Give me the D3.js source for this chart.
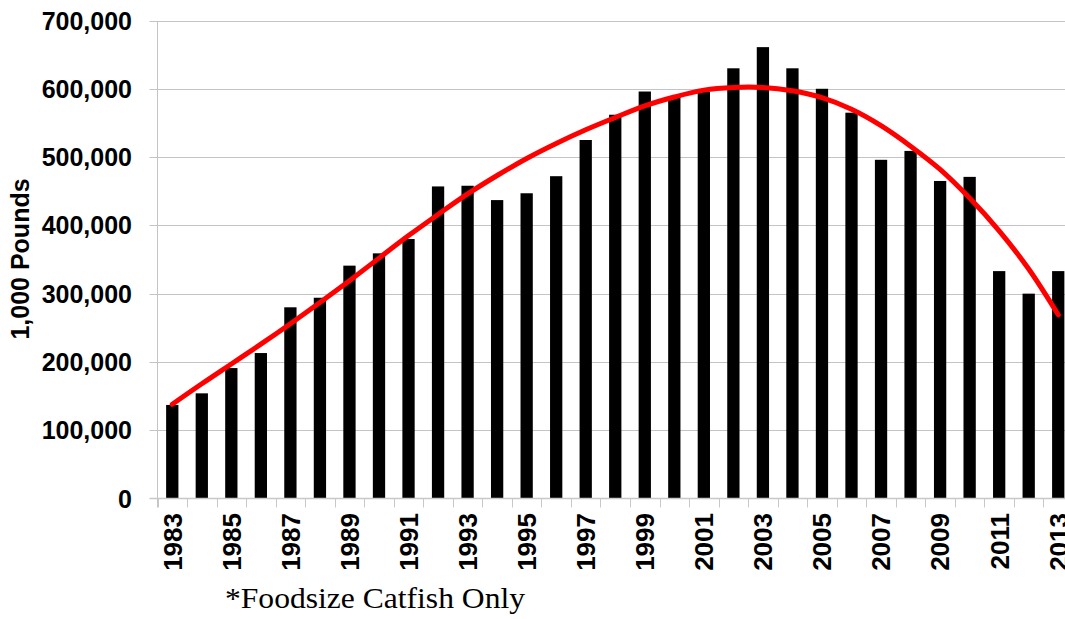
<!DOCTYPE html>
<html>
<head>
<meta charset="utf-8">
<script src="https://cdn.jsdelivr.net/npm/d3@7"></script>
<style>
  body { margin: 0; background: #fff; }
  svg { display: block; overflow: hidden; }
</style>
</head>
<body>
<svg id="chart"></svg>
<script>

const width = 1065;
const height = 619;

// years on the x axis
const years = d3.range(1983, 2014).map(String);

// catfish processed, 1,000 pounds
const pounds = [137000, 154000, 191000, 213000, 280000, 294000, 341000, 359000, 380000, 457000,
    458000, 437000, 447000, 472000, 525000, 562000, 596000, 589000, 596000, 630000,
    661000, 630000, 600000, 565000, 496000, 509000, 465000, 471000, 333000, 300000, 333000];

// red trend line (at each year)
const trend = [138000, 168000, 197000, 226000, 256000, 287000, 319000, 352000, 385000, 416000,
    446000, 473000, 498000, 520000, 540000, 558000, 575000, 588000, 598000, 602000,
    602000, 597000, 587000, 570000, 546000, 516000, 482000, 440000, 392000, 336000, 269000];

const yTicks = [0, 100000, 200000, 300000, 400000, 500000, 600000, 700000];
const labelYears = years.filter((d, i) => i % 2 === 0);

const plotLeft = 157.5;
const plotRight = 1073;
const plotTop = 20.5;
const plotBottom = 498.5;

const svg = d3.select("#chart")
    .attr("width", width)
    .attr("height", height);

const x = d3.scaleBand()
    .domain(years)
    .range([plotLeft, plotRight])
    .paddingInner(0.584)
    .paddingOuter(0.292);

const y = d3.scaleLinear()
    .domain([0, 700000])
    .range([plotBottom, plotTop]);

const fmt = d3.format(",d");

// gridlines
svg.append("g")
    .selectAll("line")
    .data(yTicks.filter(d => d > 0))
    .enter().append("line")
    .attr("x1", plotLeft - 8)
    .attr("x2", width)
    .attr("y1", d => Math.round(y(d)) + 0.5)
    .attr("y2", d => Math.round(y(d)) + 0.5)
    .style("stroke", "#c4c4c4")
    .style("stroke-width", 1);

// y axis line
svg.append("line")
    .attr("x1", plotLeft)
    .attr("x2", plotLeft)
    .attr("y1", Math.round(y(700000)) + 0.5)
    .attr("y2", plotBottom + 9)
    .style("stroke", "#c4c4c4");

// y tick labels
svg.append("g")
    .selectAll("text")
    .data(yTicks)
    .enter().append("text")
    .attr("x", 132)
    .attr("y", d => y(d))
    .attr("dy", "0.36em")
    .attr("text-anchor", "end")
    .style("font-family", "'Liberation Sans', Arial, sans-serif")
    .style("font-weight", "bold")
    .style("font-size", "25px")
    .style("fill", "#000")
    .text(d => fmt(d));

// bars
svg.append("g")
    .selectAll("rect")
    .data(pounds)
    .enter().append("rect")
    .attr("x", (d, i) => x(years[i]))
    .attr("width", x.bandwidth())
    .attr("y", d => y(d))
    .attr("height", d => y(0) - y(d))
    .style("fill", "#000");

// x axis line and ticks at band edges
svg.append("line")
    .attr("x1", plotLeft - 8)
    .attr("x2", width)
    .attr("y1", plotBottom)
    .attr("y2", plotBottom)
    .style("stroke", "#c8c8c8")
    .style("stroke-width", 1.5);

svg.append("g")
    .selectAll("line")
    .data(years)
    .enter().append("line")
    .attr("x1", d => Math.round(x(d) - x.step() * x.paddingOuter()) + 0.5)
    .attr("x2", d => Math.round(x(d) - x.step() * x.paddingOuter()) + 0.5)
    .attr("y1", plotBottom)
    .attr("y2", plotBottom + 9)
    .style("stroke", "#c8c8c8");

// x labels, every other year, rotated
svg.append("g")
    .selectAll("text")
    .data(labelYears)
    .enter().append("text")
    .attr("transform", d => `translate(${x(d) + x.bandwidth() / 2},513) rotate(-90)`)
    .attr("dy", "0.36em")
    .attr("text-anchor", "end")
    .style("font-family", "'Liberation Sans', Arial, sans-serif")
    .style("font-weight", "bold")
    .style("font-size", "26px")
    .style("fill", "#000")
    .text(d => d);

// trend line
const line = d3.line()
    .x((d, i) => x(years[i]) + x.bandwidth() / 2)
    .y(d => y(d))
    .curve(d3.curveCatmullRom);

svg.append("path")
    .datum(trend)
    .attr("d", line)
    .style("fill", "none")
    .style("stroke", "#ff0000")
    .style("stroke-width", 5)
    .style("stroke-linecap", "round");

// y axis title
svg.append("text")
    .attr("transform", "translate(29,259) rotate(-90)")
    .attr("text-anchor", "middle")
    .style("font-family", "'Liberation Sans', Arial, sans-serif")
    .style("font-weight", "bold")
    .style("font-size", "25px")
    .style("fill", "#000")
    .text("1,000 Pounds");

// footnote
svg.append("text")
    .attr("x", 225)
    .attr("y", 608)
    .attr("textLength", 300)
    .attr("lengthAdjust", "spacingAndGlyphs")
    .style("font-family", "'Liberation Serif', 'Times New Roman', serif")
    .style("font-size", "30px")
    .style("fill", "#000")
    .text("*Foodsize Catfish Only");

</script>
</body>
</html>
